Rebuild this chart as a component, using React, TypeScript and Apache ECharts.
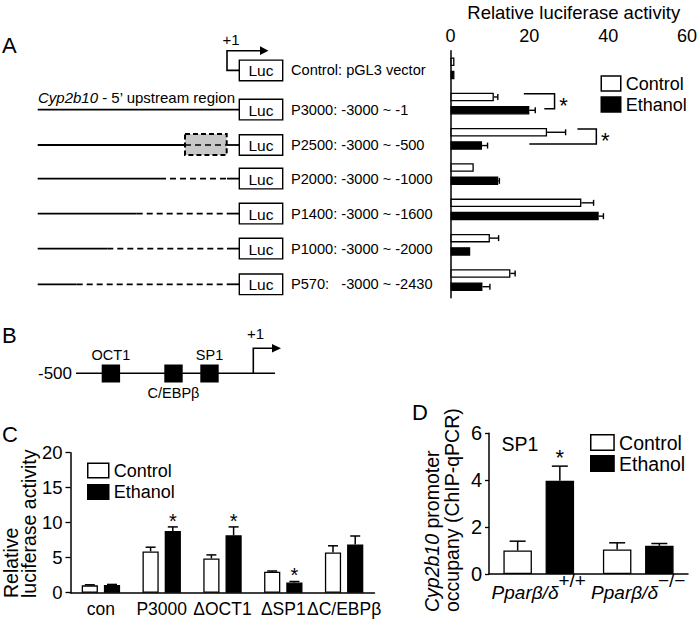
import React, { useEffect, useRef } from 'react';
import * as echarts from 'echarts';

const FONT = '"Liberation Sans", Arial, Helvetica, sans-serif';

// ---------- Panel A data ----------
const aCategories = ['pGL3', 'P3000', 'P2500', 'P2000', 'P1400', 'P1000', 'P570'];
const aConstructLabels = [
  'Control: pGL3 vector',
  'P3000: -3000 ~ -1',
  'P2500: -3000 ~ -500',
  'P2000: -3000 ~ -1000',
  'P1400: -3000 ~ -1600',
  'P1000: -3000 ~ -2000',
  'P570:   -3000 ~ -2430',
];
const aControl = [1.0, 11.0, 24.5, 5.9, 33.2, 10.0, 15.2];
const aControlErr = [0, 1.0, 4.7, 0, 3.1, 2.2, 1.2];
const aEthanol = [1.0, 20.0, 8.0, 12.1, 37.6, 5.0, 8.1];
const aEthanolErr = [0, 1.5, 1.4, 0.3, 1.2, 0, 1.9];
// [right end, row, top arm start, bottom arm start]
const aBrackets = [
  [26.4, 1, 18.6, 23.8],
  [37.0, 2, 32.2, 20.0],
];
const aAxisMax = 60;
const aAxisStep = 20;

// ---------- Panel B (schematic) ----------
const bSites = ['OCT1', 'C/EBPβ', 'SP1'];

// ---------- Panel C data ----------
const cCategories = ['con', 'P3000', 'ΔOCT1', 'ΔSP1', 'ΔC/EBPβ'];
const cControl = [1.05, 5.9, 4.9, 3.0, 5.75];
const cControlErr = [0.08, 0.6, 0.5, 0.1, 0.95];
const cEthanol = [1.1, 8.8, 8.2, 1.45, 6.9];
const cEthanolErr = [0.08, 0.6, 1.2, 0.15, 1.2];
const cEthanolStar = [0, 1, 1, 1, 0];

// ---------- Panel D data ----------
const dCategories = ['+/+', '−/−'];
const dControl = [1.0, 1.05];
const dControlErr = [0.4, 0.28];
const dEthanol = [3.98, 1.2];
const dEthanolErr = [0.62, 0.1];
const dEthanolStar = [1, 0];

const legendNames = ['Control', 'Ethanol'];

const txt = (text: string, x: number, y: number, size: number, align = 'left', valign = 'middle', extra: any = {}) => ({
  type: 'text',
  x,
  y,
  silent: true,
  style: {
    text,
    fontSize: size,
    fontFamily: FONT,
    fill: '#000',
    align,
    textAlign: align,
    verticalAlign: valign,
    textVerticalAlign: valign,
    ...extra,
  },
});

const ln = (x1: number, y1: number, x2: number, y2: number, w = 1.6, dash?: number[]) => ({
  type: 'line',
  silent: true,
  shape: { x1, y1, x2, y2 },
  style: { stroke: '#000', lineWidth: w, lineDash: dash },
});

function hErr(offset: number) {
  return (params: any, api: any) => {
    const v = api.value(0);
    const c = api.value(1);
    const e = api.value(2);
    const children: any[] = [];
    if (e > 0) {
      const p0 = api.coord([v, c]);
      const p1 = api.coord([v + e, c]);
      const y = p0[1] + offset;
      children.push({ type: 'line', shape: { x1: p0[0], y1: y, x2: p1[0], y2: y }, style: { stroke: '#000', lineWidth: 1.4 } });
      children.push({ type: 'line', shape: { x1: p1[0], y1: y - 3, x2: p1[0], y2: y + 3 }, style: { stroke: '#000', lineWidth: 1.4 } });
    }
    return { type: 'group', children };
  };
}

function vErr(offset: number, capW: number, starSize: number, starGap: number) {
  return (params: any, api: any) => {
    const c = api.value(0);
    const v = api.value(1);
    const e = api.value(2);
    const s = api.value(3);
    const p0 = api.coord([c, v]);
    const p1 = api.coord([c, v + e]);
    const x = p0[0] + offset;
    const children: any[] = [
      { type: 'line', shape: { x1: x, y1: p0[1], x2: x, y2: p1[1] }, style: { stroke: '#000', lineWidth: 1.5 } },
      { type: 'line', shape: { x1: x - capW / 2, y1: p1[1], x2: x + capW / 2, y2: p1[1] }, style: { stroke: '#000', lineWidth: 1.5 } },
    ];
    if (s) {
      children.push({
        type: 'text',
        x,
        y: p1[1] - starGap,
        style: { text: '*', fontSize: starSize, fontFamily: FONT, fill: '#000', align: 'center', textAlign: 'center', verticalAlign: 'middle', textVerticalAlign: 'middle' },
      });
    }
    return { type: 'group', children };
  };
}

function bracket(params: any, api: any) {
  const r = api.value(1);
  const right = api.coord([api.value(0), r]);
  const top = api.coord([api.value(2), r]);
  const bot = api.coord([api.value(3), r]);
  const yT = right[1] - 10;
  const yB = right[1] + 5;
  return {
    type: 'group',
    children: [
      {
        type: 'polyline',
        shape: { points: [[top[0], yT], [right[0], yT], [right[0], yB], [bot[0], yB]] },
        style: { stroke: '#000', lineWidth: 1.5, fill: null },
      },
      {
        type: 'text',
        x: right[0] + 9,
        y: (yT + yB) / 2 + 4,
        style: { text: '*', fontSize: 22, fontFamily: FONT, fill: '#000', align: 'center', textAlign: 'center', verticalAlign: 'middle', textVerticalAlign: 'middle' },
      },
    ],
  };
}

function buildGraphics() {
  const g: any[] = [];
  // panel letters
  g.push(txt('A', 2, 45, 22));
  g.push(txt('B', 2, 335, 22));
  g.push(txt('C', 2, 434, 22));
  g.push(txt('D', 412, 412, 22));

  // Panel A schematic
  const rowY = [70.4, 109.6, 145, 178.6, 213.6, 248.6, 284.3];
  const solidEnd = [0, 239.3, 185, 160, 136.7, 107.3, 76.7];
  const lineStart = 37.7;
  const boxX = 239.3;
  const boxW = 43.4;
  const boxH = 20.6;
  g.push(txt('+1', 231, 39, 15, 'center'));
  g.push({
    type: 'polyline',
    silent: true,
    shape: { points: [[boxX, rowY[0]], [227, rowY[0]], [227, 50.7], [262, 50.7]] },
    style: { stroke: '#000', lineWidth: 1.6, fill: null },
  });
  g.push({ type: 'polygon', silent: true, shape: { points: [[260, 46.3], [268.5, 50.7], [260, 55.1]] }, style: { fill: '#000' } });
  rowY.forEach((y, i) => {
    if (i > 0) {
      g.push(ln(lineStart, y, solidEnd[i], y, 1.8));
      if (solidEnd[i] < 227) {
        g.push(ln(solidEnd[i], y, 227, y, 1.7, [6, 4]));
        g.push(ln(227, y, boxX, y, 1.8));
      }
    }
    g.push({
      type: 'rect',
      silent: true,
      shape: { x: boxX, y: y - boxH / 2, width: boxW, height: boxH },
      style: { fill: '#fff', stroke: '#000', lineWidth: 1.4 },
    });
    g.push(txt('Luc', boxX + boxW / 2, y + 0.5, 15.5, 'center'));
    g.push(txt(aConstructLabels[i], 291, y, 14.6));
  });
  // deletion box for P2500
  g.push({
    type: 'rect',
    silent: true,
    shape: { x: 185, y: 134, width: 41.7, height: 21 },
    style: { fill: '#c8c8c8', stroke: '#000', lineWidth: 2, lineDash: [5, 3] },
  });
  g.push(ln(185, 145, 226.7, 145, 1.5, [6, 4]));
  g.push({
    type: 'text',
    x: 38,
    y: 97.3,
    silent: true,
    style: {
      text: '{i|Cyp2b10}{n| - 5\u2019 upstream region}',
      fontSize: 15,
      fontFamily: FONT,
      fill: '#000',
      verticalAlign: 'middle',
      textVerticalAlign: 'middle',
      rich: {
        i: { fontStyle: 'italic', fontSize: 15, fontFamily: FONT, fill: '#000' },
        n: { fontSize: 15, fontFamily: FONT, fill: '#000' },
      },
    },
  });

  // Panel B schematic
  const by = 373.3;
  g.push(ln(76, by, 275, by, 1.6));
  g.push(txt('-500', 72, by, 17, 'right'));
  const siteX = [101.7, 164.3, 200.3];
  siteX.forEach((x, i) => {
    g.push({ type: 'rect', silent: true, shape: { x, y: 364.5, width: 18.4, height: 18 }, style: { fill: '#000' } });
    const above = i !== 1;
    g.push(txt(bSites[i], x + 9.2, above ? 355 : 392.7, 14.5, 'center'));
  });
  g.push({
    type: 'polyline',
    silent: true,
    shape: { points: [[253.3, by], [253.3, 348.3], [274, 348.3]] },
    style: { stroke: '#000', lineWidth: 1.6, fill: null },
  });
  g.push({ type: 'polygon', silent: true, shape: { points: [[272, 344], [281, 348.3], [272, 352.6]] }, style: { fill: '#000' } });
  g.push(txt('+1', 255.5, 333.5, 15, 'center'));

  // axis titles (rotated, start-aligned)
  g.push({
    type: 'text',
    x: 1.5,
    y: 598,
    rotation: Math.PI / 2,
    silent: true,
    style: {
      text: 'Relative\nluciferase activity',
      fontSize: 19.5,
      lineHeight: 18.5,
      fontFamily: FONT,
      fill: '#000',
      align: 'left',
      textAlign: 'left',
      verticalAlign: 'top',
      textVerticalAlign: 'top',
    },
  });
  g.push({
    type: 'text',
    x: 421.7,
    y: 612,
    rotation: Math.PI / 2,
    silent: true,
    style: {
      text: '{i|Cyp2b10}{n| promoter}\n{n|occupany (ChIP-qPCR)}',
      fontSize: 19.5,
      lineHeight: 20,
      fontFamily: FONT,
      fill: '#000',
      align: 'left',
      textAlign: 'left',
      verticalAlign: 'top',
      textVerticalAlign: 'top',
      rich: {
        i: { fontStyle: 'italic', fontSize: 19.5, lineHeight: 20, fontFamily: FONT, fill: '#000' },
        n: { fontSize: 19.5, lineHeight: 20, fontFamily: FONT, fill: '#000' },
      },
    },
  });
  // SP1 label in panel D
  g.push(txt('SP1', 501.5, 443.5, 19.5));
  return g;
}

const axisLineStyle = { lineStyle: { color: '#000', width: 1.5 } };

function legendOf(left: number, top: number, w: number, h: number, fs: number, lh: number, gap: number) {
  return {
    left,
    top,
    orient: 'vertical',
    icon: 'rect',
    itemWidth: w,
    itemHeight: h,
    itemGap: gap,
    padding: 0,
    selectedMode: false,
    textStyle: { fontSize: fs, lineHeight: lh, color: '#000', fontFamily: FONT },
    data: [
      { name: legendNames[0], itemStyle: { color: '#fff', borderColor: '#000', borderWidth: 1.5 } },
      { name: legendNames[1], itemStyle: { color: '#000', borderColor: '#000', borderWidth: 1.5 } },
    ],
  };
}

export default function App() {
  const ref = useRef<HTMLDivElement>(null);
  useEffect(() => {
    if (!ref.current) return;
    const chart = echarts.init(ref.current, undefined, { renderer: 'svg' });
    const ctrlStyle = { color: '#fff', borderColor: '#000', borderWidth: 1.3 };
    const ethStyle = { color: '#000', borderColor: '#000', borderWidth: 1.3 };
    const option: any = {
      animation: false,
      backgroundColor: '#fff',
      textStyle: { fontFamily: FONT, color: '#000' },
      grid: [
        { left: 450.5, top: 50.7, width: 238.8, height: 247 },
        { left: 70.5, top: 452.7, width: 304, height: 140 },
        { left: 489, top: 433.3, width: 199, height: 140.7 },
      ],
      xAxis: [
        {
          type: 'value',
          gridIndex: 0,
          position: 'top',
          min: 0,
          max: aAxisMax,
          interval: aAxisStep,
          name: 'Relative luciferase activity',
          nameLocation: 'middle',
          nameGap: 29,
          nameTextStyle: { fontSize: 18.5, color: '#000', fontFamily: FONT, padding: [0, 0, 0, 10] },
          axisLine: axisLineStyle,
          axisTick: { inside: true, length: 4, lineStyle: { color: '#000', width: 1.3 } },
          axisLabel: { fontSize: 18, color: '#000', margin: 6, fontFamily: FONT },
          splitLine: { show: false },
        },
        {
          type: 'category',
          gridIndex: 1,
          data: cCategories,
          axisLine: axisLineStyle,
          axisTick: { show: false },
          axisLabel: { fontSize: 17.5, color: '#000', margin: 7, interval: 0, fontFamily: FONT },
        },
        {
          type: 'category',
          gridIndex: 2,
          data: dCategories,
          axisLine: axisLineStyle,
          axisTick: { show: false },
          axisLabel: {
            interval: 0,
            margin: 4,
            formatter: (v: string) => `{i|Pparβ/δ}{s|${v}}`,
            rich: {
              i: { fontStyle: 'italic', fontSize: 19, lineHeight: 20, padding: [9, 0, 0, 0], color: '#000', fontFamily: FONT },
              s: { fontSize: 19, lineHeight: 14, padding: [0, 0, 15, 0], color: '#000', fontFamily: FONT },
            },
          },
        },
      ],
      yAxis: [
        {
          type: 'category',
          gridIndex: 0,
          data: aCategories,
          inverse: true,
          axisLine: axisLineStyle,
          axisTick: { show: false },
          axisLabel: { show: false },
        },
        {
          type: 'value',
          gridIndex: 1,
          min: 0,
          max: 20,
          interval: 5,
          axisLine: { show: true, ...axisLineStyle },
          axisTick: { show: true, length: 5, lineStyle: { color: '#000', width: 1.3 } },
          axisLabel: { fontSize: 18.5, color: '#000', margin: 8, fontFamily: FONT },
          splitLine: { show: false },
        },
        {
          type: 'value',
          gridIndex: 2,
          min: 0,
          max: 6,
          interval: 2,
          axisLine: { show: true, ...axisLineStyle },
          axisTick: { show: true, length: 4, lineStyle: { color: '#000', width: 1.3 } },
          axisLabel: { fontSize: 20, color: '#000', margin: 7, fontFamily: FONT },
          splitLine: { show: false },
        },
      ],
      legend: [
        legendOf(600.5, 74.5, 19.5, 15, 18, 17, 3),
        legendOf(87, 461.5, 21, 14.5, 18, 18, 3.6),
        legendOf(590, 432.5, 23.3, 15.6, 19.5, 19, 1),
      ],
      series: [
        // Panel A
        { type: 'bar', name: 'Control', xAxisIndex: 0, yAxisIndex: 0, data: aControl, barWidth: 8.5, barGap: '56%', itemStyle: ctrlStyle },
        { type: 'bar', name: 'Ethanol', xAxisIndex: 0, yAxisIndex: 0, data: aEthanol, barWidth: 8.5, barGap: '56%', itemStyle: ethStyle },
        {
          type: 'custom', xAxisIndex: 0, yAxisIndex: 0, z: 5, silent: true,
          renderItem: hErr(-6.65), encode: { x: 0, y: 1 },
          data: aControl.map((v, i) => [v, i, aControlErr[i]]),
        },
        {
          type: 'custom', xAxisIndex: 0, yAxisIndex: 0, z: 5, silent: true,
          renderItem: hErr(6.65), encode: { x: 0, y: 1 },
          data: aEthanol.map((v, i) => [v, i, aEthanolErr[i]]),
        },
        {
          type: 'custom', xAxisIndex: 0, yAxisIndex: 0, z: 5, silent: true,
          renderItem: bracket, encode: { x: 0, y: 1 },
          data: aBrackets,
        },
        // Panel C
        { type: 'bar', name: 'Control', xAxisIndex: 1, yAxisIndex: 1, data: cControl, barWidth: 16.2, barGap: '37%', itemStyle: ctrlStyle },
        { type: 'bar', name: 'Ethanol', xAxisIndex: 1, yAxisIndex: 1, data: cEthanol, barWidth: 16.2, barGap: '37%', itemStyle: ethStyle },
        {
          type: 'custom', xAxisIndex: 1, yAxisIndex: 1, z: 5, silent: true,
          renderItem: vErr(-11.1, 10, 20, 6.4), encode: { x: 0, y: 1 },
          data: cControl.map((v, i) => [i, v, cControlErr[i], 0]),
        },
        {
          type: 'custom', xAxisIndex: 1, yAxisIndex: 1, z: 5, silent: true,
          renderItem: vErr(11.1, 10, 20, 6.4), encode: { x: 0, y: 1 },
          data: cEthanol.map((v, i) => [i, v, cEthanolErr[i], cEthanolStar[i]]),
        },
        // Panel D
        { type: 'bar', name: 'Control', xAxisIndex: 2, yAxisIndex: 2, data: dControl, barWidth: 28.5, barGap: '48%', itemStyle: ctrlStyle },
        { type: 'bar', name: 'Ethanol', xAxisIndex: 2, yAxisIndex: 2, data: dEthanol, barWidth: 28.5, barGap: '48%', itemStyle: ethStyle },
        {
          type: 'custom', xAxisIndex: 2, yAxisIndex: 2, z: 5, silent: true,
          renderItem: vErr(-21.1, 16, 22, 8.7), encode: { x: 0, y: 1 },
          data: dControl.map((v, i) => [i, v, dControlErr[i], 0]),
        },
        {
          type: 'custom', xAxisIndex: 2, yAxisIndex: 2, z: 5, silent: true,
          renderItem: vErr(21.1, 16, 22, 8.7), encode: { x: 0, y: 1 },
          data: dEthanol.map((v, i) => [i, v, dEthanolErr[i], dEthanolStar[i]]),
        },
      ],
      graphic: { elements: buildGraphics() },
    };
    chart.setOption(option);
    return () => chart.dispose();
  }, []);
  return <div ref={ref} style={{ width: 700, height: 621, position: 'absolute', left: 0, top: 0 }} />;
}
